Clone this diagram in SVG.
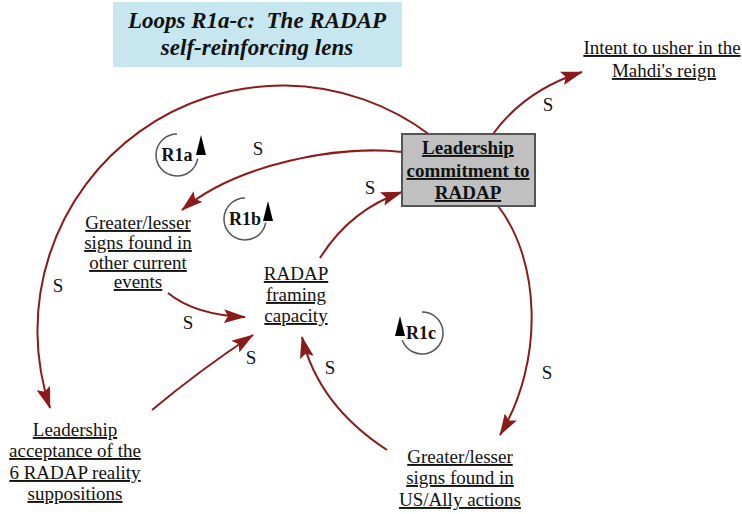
<svg xmlns="http://www.w3.org/2000/svg" width="742" height="514" viewBox="0 0 742 514">
<style>
  text { font-family: "Liberation Serif", "Times New Roman", serif; fill: #111; }
  .node { font-size: 19px; text-anchor: middle; text-decoration: underline; }
  .bold { font-weight: bold; }
  .s { font-size: 19px; text-anchor: middle; }
  .title { font-size: 23px; font-weight: bold; font-style: italic; text-anchor: middle; }
  .loopt { font-size: 18px; font-weight: bold; text-anchor: middle; }
  .link { fill: none; stroke: #8b1a1a; stroke-width: 2; marker-end: url(#ah); }
  .loop { fill: none; stroke: #555; stroke-width: 1.5; }
  .tri { fill: #000; }
</style>
<defs>
  <marker id="ah" markerWidth="22" markerHeight="14" refX="21" refY="7" orient="auto" markerUnits="userSpaceOnUse">
    <path d="M0,0 L22,7 L0,14 L4,7 z" fill="#8b1a1a"/>
  </marker>
</defs>
<rect width="742" height="514" fill="#fff"/>

<g id="title">
  <rect x="113" y="2" width="289" height="65" fill="#c6e7ef"/>
  <text class="title" x="257" y="28">Loops R1a-c:&#160; The RADAP</text>
  <text class="title" x="257" y="55">self-reinforcing lens</text>
</g>

<g id="connectors">
  <path class="link" d="M493,134 Q525,90 582,72"/>
  <path class="link" d="M430,135 A245,245 0 0,0 50,408"/>
  <path class="link" d="M402,152 C340,145 238,163 182,210"/>
  <path class="link" d="M320,258 Q350,210 402,192"/>
  <path class="link" d="M168,293 Q195,315 245,317"/>
  <path class="link" d="M152,410 Q200,370 253,335"/>
  <path class="link" d="M498,206 C540,260 545,360 500,435"/>
  <path class="link" d="M387,450 Q318,405 302,337"/>
</g>

<g id="polarity">
  <text class="s" x="548" y="111">S</text>
  <text class="s" x="58" y="292">S</text>
  <text class="s" x="258" y="155">S</text>
  <text class="s" x="370" y="194">S</text>
  <text class="s" x="188" y="329">S</text>
  <text class="s" x="251" y="364">S</text>
  <text class="s" x="330" y="374">S</text>
  <text class="s" x="547" y="379">S</text>
</g>

<g id="leadership-commitment">
  <rect x="402" y="134" width="133" height="72" fill="#c0c0c0" stroke="#555" stroke-width="2"/>
  <text class="node bold" x="468" y="154">Leadership</text>
  <text class="node bold" x="468" y="177">commitment to</text>
  <text class="node bold" x="468" y="199">RADAP</text>
</g>

<g id="intent-mahdi">
  <text class="node" x="662" y="54">Intent to usher in the</text>
  <text class="node" x="664" y="77">Mahdi's reign</text>
</g>

<g id="signs-other-events">
  <text class="node" x="138" y="229">Greater/lesser</text>
  <text class="node" x="138" y="249">signs found in</text>
  <text class="node" x="138" y="269">other current</text>
  <text class="node" x="138" y="288">events</text>
</g>

<g id="radap-framing">
  <text class="node" x="296" y="280">RADAP</text>
  <text class="node" x="296" y="301">framing</text>
  <text class="node" x="296" y="322">capacity</text>
</g>

<g id="leadership-acceptance">
  <text class="node" x="75" y="436">Leadership</text>
  <text class="node" x="75" y="457">acceptance of the</text>
  <text class="node" x="75" y="479">6 RADAP reality</text>
  <text class="node" x="75" y="500">suppositions</text>
</g>

<g id="signs-us-ally">
  <text class="node" x="460" y="463">Greater/lesser</text>
  <text class="node" x="460" y="484">signs found in</text>
  <text class="node" x="460" y="506">US/Ally actions</text>
</g>

<g id="loop-R1a">
  <path class="loop" d="M177,134 A21,21 0 1,0 197.7,158.6"/>
  <path class="tri" d="M201,135 L206,155 L196,155 z"/>
  <text class="loopt" x="177" y="161">R1a</text>
</g>
<g id="loop-R1b">
  <path class="loop" d="M245,198 A21,21 0 1,0 265.7,222.6"/>
  <path class="tri" d="M268,201 L273,221 L263,221 z"/>
  <text class="loopt" x="245" y="225">R1b</text>
</g>
<g id="loop-R1c">
  <path class="loop" d="M422,312 A21,21 0 1,1 402.3,340.2"/>
  <path class="tri" d="M400,316 L405,336 L395,336 z"/>
  <text class="loopt" x="421" y="339">R1c</text>
</g>
</svg>
